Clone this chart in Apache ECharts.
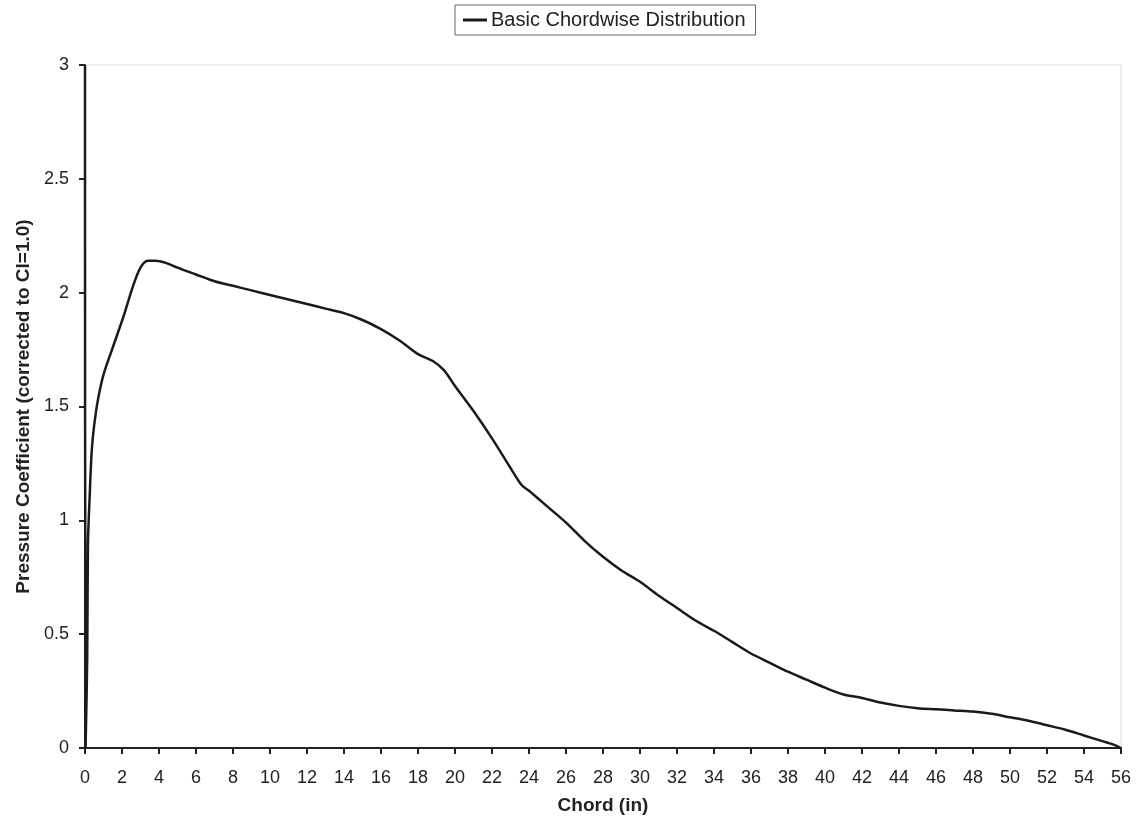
<!DOCTYPE html>
<html>
<head>
<meta charset="utf-8">
<script src="https://cdn.jsdelivr.net/npm/echarts@6/dist/echarts.min.js"></script>
<style>html,body{margin:0;padding:0;background:#fff;}#c{width:1138px;height:825px;}</style>
</head>
<body>
<div id="c"></div>
<script>
const seriesName = 'Basic Chordwise Distribution';
const xTitle = 'Chord (in)';
const yTitle = 'Pressure Coefficient (corrected to Cl=1.0)';
const chord = [0, 0.03, 0.12, 0.16, 0.25, 0.36, 0.5, 0.7, 1.0, 1.46, 2.06, 2.6, 3.0, 3.4, 3.8, 4.4, 5, 6, 7, 8, 9, 10, 11, 12, 13, 14, 15, 16, 17, 18, 18.8, 19.4, 20, 21, 22, 23, 23.6, 24, 25, 26, 27, 28, 29, 30, 31, 32, 33, 34, 35, 36, 37, 38, 39, 40, 41, 42, 43, 44, 45, 46, 47, 48, 49, 50, 51, 52, 53, 54, 55, 55.6, 56];
const cp = [3.0, 0.0, 0.4, 0.9, 1.1, 1.3, 1.42, 1.53, 1.64, 1.75, 1.89, 2.03, 2.11, 2.14, 2.14, 2.13, 2.11, 2.08, 2.05, 2.03, 2.01, 1.99, 1.97, 1.95, 1.93, 1.91, 1.88, 1.84, 1.79, 1.73, 1.70, 1.66, 1.59, 1.48, 1.36, 1.23, 1.155, 1.13, 1.06, 0.99, 0.91, 0.84, 0.78, 0.73, 0.67, 0.615, 0.56, 0.515, 0.465, 0.415, 0.375, 0.335, 0.30, 0.265, 0.235, 0.22, 0.20, 0.185, 0.175, 0.17, 0.165, 0.16, 0.15, 0.135, 0.12, 0.10, 0.08, 0.055, 0.03, 0.015, 0.0];
const xMin = 0, xMax = 56, xStep = 2;
const yMin = 0, yMax = 3, yStep = 0.5;

const data = chord.map((x, i) => [x, cp[i]]);
const chart = echarts.init(document.getElementById('c'));
const font = 'Liberation Sans, Arial, sans-serif';
chart.setOption({
  animation: false,
  backgroundColor: '#fff',
  textStyle: { fontFamily: font },
  legend: {
    top: 5, left: 455,
    data: [seriesName],
    borderColor: '#666', borderWidth: 1, padding: [5, 10, 5, 8], borderRadius: 0,
    itemWidth: 24, itemHeight: 3, icon: 'rect', itemGap: 6,
    textStyle: { fontSize: 20, color: '#222', fontFamily: font, padding: [0, 0, 0, -1] }
  },
  grid: {
    left: 85, right: 17, top: 65, bottom: 77,
    show: true, borderColor: '#ddd', borderWidth: 1
  },
  xAxis: {
    type: 'value', min: xMin, max: xMax, interval: xStep,
    name: xTitle, nameLocation: 'middle', nameGap: 48,
    nameTextStyle: { fontSize: 19, fontWeight: 'bold', color: '#222' },
    axisLine: { show: true, lineStyle: { color: '#222', width: 2 } },
    axisTick: { show: true, length: 6, lineStyle: { color: '#222', width: 2 } },
    axisLabel: { fontSize: 18, color: '#222', margin: 21 },
    splitLine: { show: false }
  },
  yAxis: {
    type: 'value', min: yMin, max: yMax, interval: yStep,
    name: yTitle, nameLocation: 'middle', nameGap: 50,
    nameTextStyle: { fontSize: 19, fontWeight: 'bold', color: '#222' },
    axisLine: { show: true, lineStyle: { color: '#222', width: 2 } },
    axisTick: { show: true, length: 6, lineStyle: { color: '#222', width: 2 } },
    axisLabel: { fontSize: 18, color: '#222', margin: 16 },
    splitLine: { show: false }
  },
  series: [{
    name: seriesName, type: 'line', data: data,
    showSymbol: false, smooth: 0.3,
    lineStyle: { color: '#1a1a1a', width: 2.5 },
    itemStyle: { color: '#1a1a1a' }
  }]
});
</script>
</body>
</html>
